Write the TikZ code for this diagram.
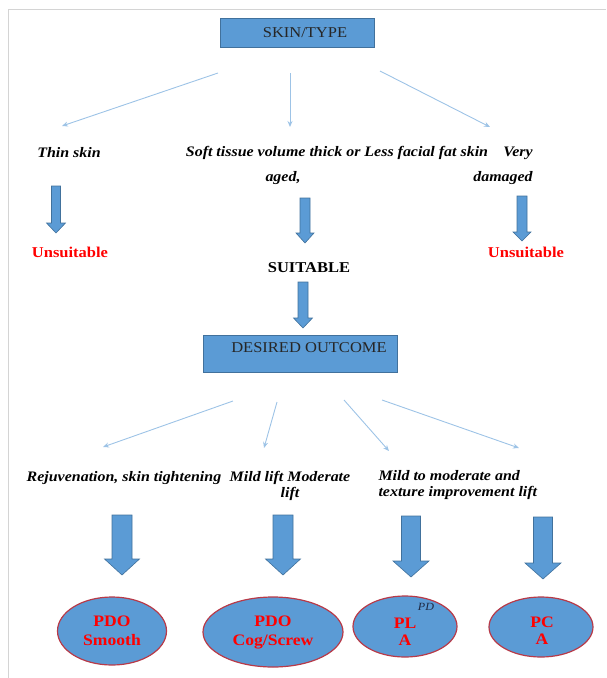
\documentclass[tikz,border=0pt]{standalone}
\usepackage{fontspec}
\setmainfont[FakeStretch=1.1]{Liberation Serif}
\usetikzlibrary{arrows.meta,shapes.geometric}

\definecolor{boxblue}{HTML}{5B9BD5}
\definecolor{boxedge}{HTML}{41719C}
\definecolor{thinblue}{HTML}{9DC3E6}
\definecolor{ovaledge}{HTML}{B83A48}
\definecolor{framegray}{HTML}{D4D4D4}
\definecolor{pdtext}{HTML}{1F2A44}

\tikzset{
  titlebox/.style={draw=boxedge, fill=boxblue, line width=0.8, inner sep=0,
    font=\fontsize{15}{17}\selectfont, text=black!85},
  thinarrow/.style={draw=thinblue, line width=0.9, -{Stealth[length=6pt,width=5pt]}},
  fatarrow/.style={draw=boxedge, fill=boxblue, line width=0.6},
  option/.style={font=\fontsize{14.5}{16}\selectfont\bfseries\itshape, align=center},
  verdict/.style={font=\fontsize{15}{17}\selectfont\bfseries, text=red},
  oval/.style={ellipse, draw=ovaledge, fill=boxblue, line width=1.2, inner sep=0,
    font=\fontsize{16}{19}\selectfont\bfseries, text=red, align=center},
}

% fat down arrow: x, top, head start, tip, half shaft, half head
\newcommand{\blockdown}[6]{%
  \draw[fatarrow] (#1-#5,#2) -- (#1+#5,#2) -- (#1+#5,#3) -- (#1+#6,#3)
    -- (#1,#4) -- (#1-#6,#3) -- (#1-#5,#3) -- cycle;}

\begin{document}
\begin{tikzpicture}[x=1pt, y=-1pt]
  \useasboundingbox (0,0) rectangle (606,678);
  % frame
  \draw[framegray, line width=0.8] (8,678) -- (8,9) -- (606,9);

  % skin type
  \node[titlebox, minimum width=154, minimum height=29] (skin) at (297,32.5) {\hspace{16pt}SKIN/TYPE};
  \coordinate (s1) at (218,73);
  \coordinate (e1) at (62,126);
  \coordinate (s2) at (290,73);
  \coordinate (e2) at (290,127);
  \coordinate (s3) at (380,71);
  \coordinate (e3) at (490,127);
  \draw[thinarrow] (s1) -- (e1);
  \draw[thinarrow] (s2) -- (e2);
  \draw[thinarrow] (s3) -- (e3);

  % skin kinds
  \node[option] (thin) at (69,153) {Thin skin};
  \node[option] (soft) at (337,153) {Soft tissue volume thick or Less facial fat skin};
  \node[option] (very) at (518,153) {Very};
  \node[option] (aged) at (283,178) {aged,};
  \node[option] (damaged) at (503,178) {damaged};

  % verdicts
  \blockdown{56}{186}{223}{233}{4.5}{9.5}
  \blockdown{305}{198}{233}{243}{5}{9}
  \blockdown{522}{196}{232}{241}{5}{9}
  \node[verdict] (bad1) at (70,252) {Unsuitable};
  \node[verdict] (bad2) at (526,252) {Unsuitable};
  \node[verdict, text=black] (good) at (309,268) {SUITABLE};
  \blockdown{303}{282}{318}{328}{5}{9.5}

  % desired outcome
  \node[titlebox, minimum width=194, minimum height=37] (outcome) at (300,353.5) {};
  \node[font=\fontsize{15}{17}\selectfont, text=black!85] (outtext) at (309,348) {DESIRED OUTCOME};
  \coordinate (s4) at (233,401);
  \coordinate (e4) at (103,447);
  \coordinate (s5) at (277,402);
  \coordinate (e5) at (264,448);
  \coordinate (s6) at (344,400);
  \coordinate (e6) at (389,451);
  \coordinate (s7) at (382,400);
  \coordinate (e7) at (519,448);
  \draw[thinarrow] (s4) -- (e4);
  \draw[thinarrow] (s5) -- (e5);
  \draw[thinarrow] (s6) -- (e6);
  \draw[thinarrow] (s7) -- (e7);

  % outcomes
  \node[option] (rejuv) at (124,478) {Rejuvenation, skin tightening};
  \node[option] (mild) at (290,485.5) {Mild lift Moderate\\lift};
  \node[option, anchor=west, align=left] (texture) at (375,485.5) {Mild to moderate and\\texture improvement lift};

  % threads
  \blockdown{122}{515}{559}{575}{10}{17.5}
  \blockdown{283}{515}{559}{575}{10}{17.5}
  \blockdown{411}{516}{561}{577}{9.5}{18}
  \blockdown{543}{517}{563}{579}{9.5}{18}
  \node[oval, minimum width=109, minimum height=68] (smooth) at (112,631) {PDO\\Smooth};
  \node[oval, minimum width=140, minimum height=70] (cog) at (273,632) {PDO\\Cog/Screw};
  \node[oval, minimum width=104, minimum height=61] (pla) at (405,626.5) {};
  \path (405,631.5) node (platext) [font=\fontsize{16}{17}\selectfont\bfseries, text=red, align=center] {PL\\A};
  \path (426,607) node (pd) [font=\fontsize{11}{12}\selectfont\itshape, text=pdtext] {PD};
  \node[oval, minimum width=104, minimum height=60] (pca) at (541,627) {};
  \path (542,630.5) node (pcatext) [font=\fontsize{16}{17}\selectfont\bfseries, text=red, align=center] {PC\\A};
\end{tikzpicture}
\end{document}
